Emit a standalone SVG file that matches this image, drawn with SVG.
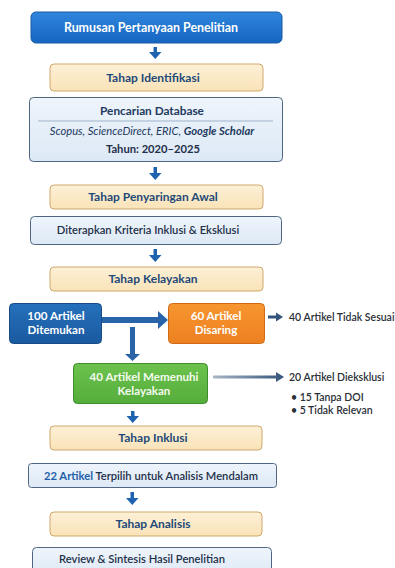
<svg xmlns="http://www.w3.org/2000/svg" width="395" height="568" viewBox="0 0 395 568">
<defs>
<linearGradient id="gTop" x1="0" y1="0" x2="0" y2="1"><stop offset="0" stop-color="#2f86dc"/><stop offset="1" stop-color="#1565c0"/></linearGradient>
<linearGradient id="gTan" x1="0" y1="0" x2="0" y2="1"><stop offset="0" stop-color="#fdf0d6"/><stop offset="1" stop-color="#f9e3b8"/></linearGradient>
<linearGradient id="gBlue" x1="0" y1="0" x2="0" y2="1"><stop offset="0" stop-color="#eef4fb"/><stop offset="1" stop-color="#dde9f6"/></linearGradient>
<linearGradient id="gDark" x1="0" y1="0" x2="0" y2="1"><stop offset="0" stop-color="#2570bb"/><stop offset="1" stop-color="#1a5aa0"/></linearGradient>
<linearGradient id="gOrange" x1="0" y1="0" x2="0" y2="1"><stop offset="0" stop-color="#f7962f"/><stop offset="1" stop-color="#ec8020"/></linearGradient>
<linearGradient id="gGreen" x1="0" y1="0" x2="0" y2="1"><stop offset="0" stop-color="#6cc24d"/><stop offset="1" stop-color="#55ad3b"/></linearGradient>
<linearGradient id="gShaft" x1="0" y1="0" x2="1" y2="0"><stop offset="0" stop-color="#a9b6c6"/><stop offset="1" stop-color="#34547a"/></linearGradient>
<linearGradient id="gLine" x1="0" y1="0" x2="1" y2="0"><stop offset="0" stop-color="#d4dce6"/><stop offset="1" stop-color="#9aa9ba"/></linearGradient>
</defs>
<style>
text{font-family:Lato,"Open Sans","Liberation Sans",sans-serif;text-anchor:middle}
.tan{fill:url(#gTan);stroke:#cfa96e;stroke-width:1}
.lb{fill:url(#gBlue);stroke:#4f6683;stroke-width:1}
.tt{font-size:12px;font-weight:700;fill:#1f4a78}
.w{font-size:11.6px;font-weight:700;fill:#ffffff}
.dk{font-size:11.2px;font-weight:600;fill:#1e2f48}
.side{font-size:10.5px;font-weight:600;fill:#2b2f36;text-anchor:start}
.arr{fill:#1f63b0}
</style>

<g id="connectors">
<path class="arr" d="M153.5 47h3.5v5h4.5l-6.25 7l-6.25-7h4.5z"/>
<path class="arr" d="M153.5 167h3.5v6h4.5l-6.25 7l-6.25-7h4.5z"/>
<path class="arr" d="M153.5 249h3.5v6h4.5l-6.25 7l-6.25-7h4.5z"/>
<path d="M102 317h56v-6l10 9l-10 9v-6h-56z" fill="#2a64a8"/>
<path d="M130 327h5v27h5l-7.5 7l-7.5-7h5z" fill="#2a64a8"/>
<path d="M268 315.5h8v-3l7 4.5l-7 4.5v-3h-8z" fill="#34547a"/>
<path d="M213 375.5h63v-3.5l8 5l-8 5v-3.5h-63z" fill="url(#gShaft)"/>
<path class="arr" d="M131 411h3.5v5h4.5l-6.25 7l-6.25-7h4.5z"/>
<path class="arr" d="M130.5 492h3.5v6h4.5l-6.25 7l-6.25-7h4.5z"/>
</g>

<g id="n1"><rect x="31" y="12" width="251" height="31" rx="5" fill="url(#gTop)" stroke="#1a5ca4"/><text x="151" y="32" class="w" style="font-size:12.4px">Rumusan Pertanyaan Penelitian</text></g>
<g id="n2"><rect x="50" y="64" width="213" height="27" rx="4" class="tan"/><text x="153" y="81.5" class="tt">Tahap Identifikasi</text></g>
<g id="n3"><rect x="29.5" y="97.5" width="253" height="64" rx="4" class="lb"/>
<line x1="38" y1="121" x2="273" y2="121" stroke="#9fb3cb" stroke-width="1"/>
<text x="152" y="115" class="tt" style="fill:#1e3a5f;font-size:11.8px">Pencarian Database</text>
<text x="152" y="135" style="font-size:11.2px;font-style:italic;fill:#1e3a5f">Scopus, ScienceDirect, ERIC, <tspan font-weight="700">Google Scholar</tspan></text>
<text x="153" y="153" class="tt" style="fill:#1e2f48;font-size:11.2px">Tahun: 2020–2025</text></g>
<g id="n4"><rect x="50" y="185" width="213" height="24" rx="4" class="tan"/><text x="153" y="201" class="tt">Tahap Penyaringan Awal</text></g>
<g id="n5"><rect x="30.5" y="216.5" width="251" height="28" rx="4" class="lb"/><text x="148" y="234" class="dk">Diterapkan Kriteria Inklusi &amp; Eksklusi</text></g>
<g id="n6"><rect x="50" y="267" width="213" height="24" rx="4" class="tan"/><text x="153" y="283" class="tt">Tahap Kelayakan</text></g>
<g id="n7"><rect x="9.5" y="303.5" width="92" height="40" rx="4" fill="url(#gDark)" stroke="#174b85"/><text x="56" y="320" class="w">100 Artikel</text><text x="56" y="334" class="w">Ditemukan</text></g>
<g id="n8"><rect x="168.5" y="303.5" width="96" height="40" rx="4" fill="url(#gOrange)" stroke="#cf6b15"/><text x="216" y="320" class="w">60 Artikel</text><text x="216" y="334" class="w">Disaring</text></g>
<g id="n9"><text x="289" y="320.5" class="side">40 Artikel Tidak Sesuai</text><line x1="287" y1="328.5" x2="395" y2="328.5" stroke="url(#gLine)"/></g>
<g id="n10"><rect x="73.5" y="363.5" width="134" height="40" rx="4" fill="url(#gGreen)" stroke="#3f8c2c"/><text x="144" y="381" class="w" style="fill:#f4fbef">40 Artikel Memenuhi</text><text x="144" y="395" class="w" style="fill:#f4fbef">Kelayakan</text></g>
<g id="n11"><text x="289" y="380.5" class="side">20 Artikel Dieksklusi</text><line x1="287" y1="387.5" x2="395" y2="387.5" stroke="url(#gLine)"/>
<text x="291" y="401" class="side">• 15 Tanpa DOI</text><text x="291" y="414" class="side">• 5 Tidak Relevan</text><line x1="287" y1="421.5" x2="395" y2="421.5" stroke="url(#gLine)"/></g>
<g id="n12"><rect x="50" y="426" width="212" height="24" rx="4" class="tan"/><text x="153" y="442" class="tt">Tahap Inklusi</text></g>
<g id="n13"><rect x="28.5" y="463.5" width="248" height="24" rx="3" class="lb"/><text x="151" y="479.5" class="dk"><tspan font-weight="700" fill="#1f5fa8">22 Artikel</tspan> Terpilih untuk Analisis Mendalam</text></g>
<g id="n14"><rect x="50" y="512" width="212" height="24" rx="4" class="tan"/><text x="153" y="528" class="tt">Tahap Analisis</text></g>
<g id="n15"><rect x="32.5" y="547.5" width="239" height="30" rx="4" class="lb"/><text x="142" y="563" class="dk">Review &amp; Sintesis Hasil Penelitian</text></g>
</svg>
